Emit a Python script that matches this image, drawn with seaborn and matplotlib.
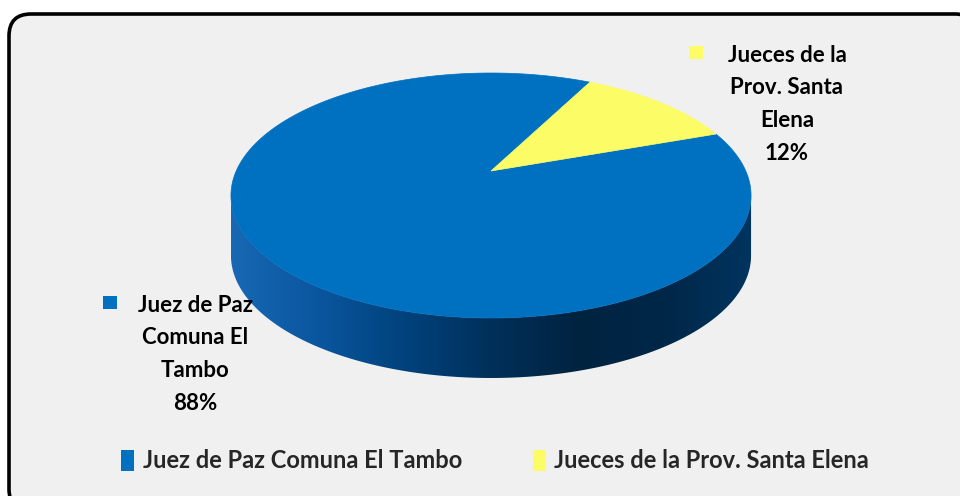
import numpy as np
import matplotlib
matplotlib.use('Agg')
import matplotlib.pyplot as plt
from matplotlib.patches import Polygon, FancyBboxPatch, Rectangle, Patch
from matplotlib.colors import LinearSegmentedColormap
import seaborn as sns

sns.set_style("white")
plt.rcParams['font.family'] = ['Lato', 'DejaVu Sans']

# == data
labels = ['Juez de Paz Comuna El Tambo', 'Jueces de la Prov. Santa Elena']
label_lines = [['Juez de Paz', 'Comuna El', 'Tambo'],
               ['Jueces de la', 'Prov. Santa', 'Elena']]
values = [88, 12]
colors = ['#0070C0', '#FCFC66']

# == 3d pie geometry (pixel units, y down)
cx, cy = 491, 171          # projected centre of the disc
S, c, k = 254.8, 0.4615, 0.2
depth = 60
start = 19.6               # slices run clockwise from here


def proj(phi, dz=0.0):
    phi = np.radians(phi)
    w = 1 + k * np.sin(phi)
    x = cx + S * np.cos(phi) / w
    y = cy - S * c * np.sin(phi) / w + dz
    return x, y


fig = plt.figure(figsize=(9.6, 4.96), dpi=100)
ax = fig.add_axes([0, 0, 1, 1])
ax.set_xlim(0, 960)
ax.set_ylim(496, 0)
ax.axis('off')

# chart frame
frame = FancyBboxPatch((9, 14), 968, 497, boxstyle='round,pad=0,rounding_size=22',
                       facecolor='#F0F0F0', edgecolor='black', lw=2.6, zorder=0)
ax.add_patch(frame)

# side of the cylinder with a horizontal gradient
edge = np.degrees(np.arcsin(-k))
phis = np.linspace(180 - edge, 360 + edge, 300)
tx, ty = proj(phis)
bx, by = proj(phis[::-1], depth)
side = Polygon(np.column_stack([np.r_[tx, bx], np.r_[ty, by]]), closed=True,
               facecolor='none', edgecolor='none')
ax.add_patch(side)
cmap = LinearSegmentedColormap.from_list(
    'side', ['#1868B4', '#0A569E', '#00427C', '#00305A', '#002340', '#002748', '#00345F'])
grad = np.linspace(0, 1, 256).reshape(1, -1)
im = ax.imshow(grad, cmap=cmap, extent=(tx.min(), tx.max(), by.max() + 2, ty.min()),
               aspect='auto', zorder=1, interpolation='bilinear')
im.set_clip_path(side)
ax.set_xlim(0, 960)
ax.set_ylim(496, 0)

# top face slices
total = float(sum(values))
cum = 0.0
for v, col in zip(values, colors):
    t1 = start - cum
    t2 = start - cum - 360 * v / total
    arc = np.linspace(t1, t2, 200)
    px, py = proj(arc)
    poly = Polygon(np.column_stack([np.r_[cx, px], np.r_[cy, py]]), closed=True,
                   facecolor=col, edgecolor=col, lw=0.5, zorder=2)
    ax.add_patch(poly)
    cum += 360 * v / total

# data labels
label_x = [195, 787]
label_base = [312, 62]
sq_x = [103, 689]
line_gap = 32.5
for lines, v, col, x0, y0, sx in zip(label_lines, values, colors, label_x, label_base, sq_x):
    rows = lines + ['{}%'.format(v)]
    for i, row in enumerate(rows):
        ax.text(x0, y0 + i * line_gap, row, ha='center', va='baseline',
                fontsize=16, fontweight='bold', color='black', zorder=3)
    ax.add_patch(Rectangle((sx, y0 - 16), 14, 13,
                           facecolor=col, edgecolor='none', zorder=3))

# legend
handles = [Patch(facecolor=col, edgecolor='none', label=lab) for lab, col in zip(labels, colors)]
ax.legend(handles=handles, ncol=2, loc='center', bbox_to_anchor=(495, 461),
          bbox_transform=ax.transData, frameon=False,
          prop={'weight': 'bold', 'size': 17},
          handlelength=0.55, handleheight=1.0, handletextpad=0.35, columnspacing=3.0)

plt.savefig('out.png', dpi=100)
plt.close()
